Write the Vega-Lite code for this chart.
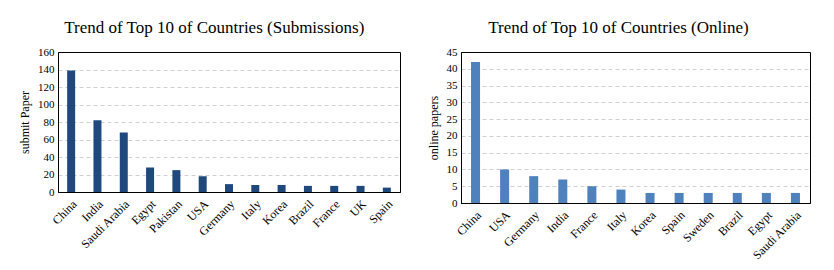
{
  "$schema": "https://vega.github.io/schema/vega-lite/v6.json",
  "padding": {"left": 18, "top": 18, "right": 0, "bottom": 0},
  "background": "white",
  "spacing": 25,
  "datasets": {
    "submissions": [
      {"country": "China", "papers": 139},
      {"country": "India", "papers": 82},
      {"country": "Saudi Arabia", "papers": 68},
      {"country": "Egypt", "papers": 28},
      {"country": "Pakistan", "papers": 25},
      {"country": "USA", "papers": 18},
      {"country": "Germany", "papers": 9},
      {"country": "Italy", "papers": 8},
      {"country": "Korea", "papers": 8},
      {"country": "Brazil", "papers": 7},
      {"country": "France", "papers": 7},
      {"country": "UK", "papers": 7},
      {"country": "Spain", "papers": 5}
    ],
    "online": [
      {"country": "China", "papers": 42},
      {"country": "USA", "papers": 10},
      {"country": "Germany", "papers": 8},
      {"country": "India", "papers": 7},
      {"country": "France", "papers": 5},
      {"country": "Italy", "papers": 4},
      {"country": "Korea", "papers": 3},
      {"country": "Spain", "papers": 3},
      {"country": "Sweden", "papers": 3},
      {"country": "Brazil", "papers": 3},
      {"country": "Egypt", "papers": 3},
      {"country": "Saudi Arabia", "papers": 3}
    ]
  },
  "config": {
    "font": "Liberation Serif",
    "view": {"stroke": "black", "strokeWidth": 1},
    "title": {"font": "Liberation Serif", "fontSize": 17, "fontWeight": "normal", "color": "black", "offset": 9, "frame": "bounds"},
    "axis": {
      "labelFont": "Liberation Serif",
      "titleFont": "Liberation Serif",
      "labelFontSize": 11,
      "titleFontSize": 12,
      "titleFontWeight": "normal",
      "labelColor": "black",
      "titleColor": "black",
      "domainColor": "black",
      "ticks": false,
      "labelPadding": 4
    }
  },
  "hconcat": [
    {
      "title": {"text": "Trend of Top 10 of Countries (Submissions)", "dx": 5},
      "width": 342,
      "height": 140,
      "data": {"name": "submissions"},
      "mark": {"type": "bar", "size": 8, "color": "#1f497d"},
      "encoding": {
        "x": {
          "field": "country", "type": "nominal", "sort": null, "title": null,
          "axis": {"labelAngle": -45, "grid": false, "labelPadding": 6, "labelFontSize": 12}
        },
        "y": {
          "field": "papers", "type": "quantitative", "title": "submit Paper",
          "scale": {"domain": [0, 160]},
          "axis": {
            "values": [0, 20, 40, 60, 80, 100, 120, 140, 160], "grid": true, "gridDash": [4, 3], "gridColor": "#d0d0d0",
            "gridOpacity": {"condition": {"test": "datum.value >= 160 || datum.value <= 0", "value": 0}, "value": 1},
            "titlePadding": 6
          }
        }
      }
    },
    {
      "title": "Trend of Top 10 of Countries (Online)",
      "width": 349,
      "height": 151,
      "data": {"name": "online"},
      "mark": {"type": "bar", "size": 9, "color": "#4f81bd"},
      "encoding": {
        "x": {
          "field": "country", "type": "nominal", "sort": null, "title": null,
          "axis": {"labelAngle": -45, "grid": false, "labelPadding": 6, "labelFontSize": 12}
        },
        "y": {
          "field": "papers", "type": "quantitative", "title": "online papers",
          "scale": {"domain": [0, 45]},
          "axis": {
            "values": [0, 5, 10, 15, 20, 25, 30, 35, 40, 45], "grid": true, "gridDash": [4, 3], "gridColor": "#d0d0d0",
            "gridOpacity": {"condition": {"test": "datum.value >= 45 || datum.value <= 0", "value": 0}, "value": 1},
            "titlePadding": 6
          }
        }
      }
    }
  ]
}
